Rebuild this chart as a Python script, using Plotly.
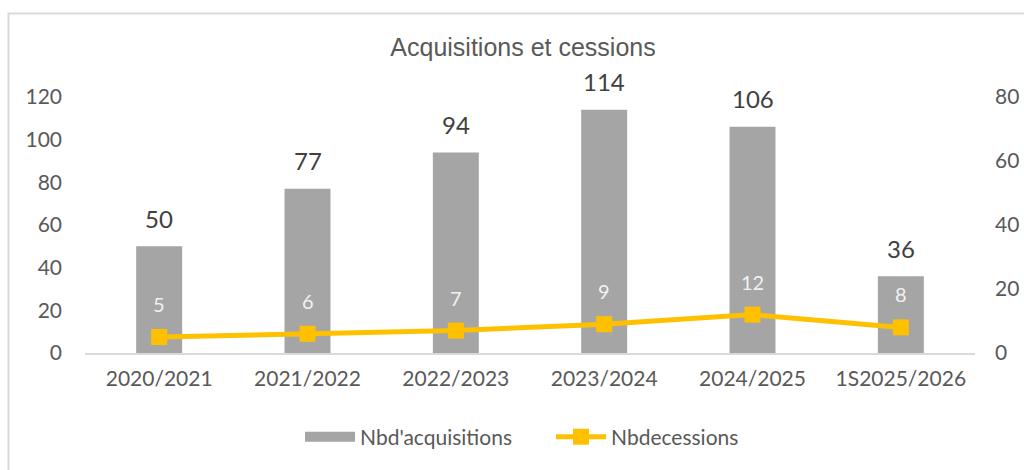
import plotly.graph_objects as go

categories = ["2020/2021", "2021/2022", "2022/2023", "2023/2024", "2024/2025", "1S2025/2026"]
acquisitions = [50, 77, 94, 114, 106, 36]
cessions = [5, 6, 7, 9, 12, 8]
left_ticks = [0, 20, 40, 60, 80, 100, 120]
right_ticks = [0, 20, 40, 60, 80]

FONT = "Lato, 'Open Sans', sans-serif"
W, H = 1024, 470
L, R, T, B = 85, 49, 97, 117
pw, ph = W - L - R, H - T - B
GRAY = "#A5A5A5"
GOLD = "#FFC000"
TXT = "#595959"

fig = go.Figure()
fig.add_trace(go.Bar(
    x=categories, y=acquisitions, name="Nbd'acquisitions",
    marker=dict(color=GRAY, line=dict(width=0)),
    width=0.31, showlegend=False,
))
# legend entry for the bars (wide rectangle swatch)
fig.add_trace(go.Scatter(
    x=[None], y=[None], name="Nbd'acquisitions", mode="lines",
    line=dict(color=GRAY, width=15), showlegend=True,
))
fig.add_trace(go.Scatter(
    x=categories, y=cessions, name="Nbdecessions", yaxis="y2",
    mode="lines+markers",
    line=dict(color=GOLD, width=5),
    marker=dict(symbol="square", size=16, color=GOLD),
    cliponaxis=False,
))
for c, v in zip(categories, acquisitions):
    fig.add_annotation(x=c, y=v, xref="x", yref="y", text=str(v),
                       showarrow=False, yshift=28,
                       font=dict(family=FONT, size=24, color="#404040"))
for c, v in zip(categories, cessions):
    fig.add_annotation(x=c, y=v, xref="x", yref="y2", text=str(v),
                       showarrow=False, yshift=33,
                       font=dict(family=FONT, size=20, color="#F2F2F2"))

# chart border
fig.add_shape(type="rect", xref="paper", yref="paper",
              x0=(8.5 - L) / pw, x1=(1040 - L) / pw,
              y0=(H - B - 490) / ph, y1=(H - B - 13.5) / ph,
              line=dict(color="#D9D9D9", width=2), fillcolor="rgba(0,0,0,0)", layer="below")

fig.update_layout(
    width=W, height=H,
    margin=dict(l=L, r=R, t=T, b=B),
    paper_bgcolor="white", plot_bgcolor="white",
    title=dict(text="Acquisitions et cessions", x=(523 - L) / pw, xref="paper", xanchor="center",
               y=1 - 47 / H, yanchor="middle",
               font=dict(family="Liberation Sans, Arial, sans-serif", size=25, color=TXT)),
    xaxis=dict(showgrid=False, showline=True, linecolor="#D9D9D9", linewidth=1.5,
               ticks="", automargin=False,
               tickfont=dict(family=FONT, size=21, color=TXT), ticklabelstandoff=6),
    yaxis=dict(range=[0, 120], tickvals=left_ticks, showgrid=False, zeroline=False,
               showline=False, automargin=False,
               tickfont=dict(family=FONT, size=21, color=TXT),
               ticklabelstandoff=22),
    yaxis2=dict(range=[0, 80], tickvals=right_ticks, overlaying="y", side="right",
                showgrid=False, zeroline=False, showline=False, automargin=False,
                tickfont=dict(family=FONT, size=21, color=TXT),
                ticklabelstandoff=19),
    legend=dict(orientation="h", x=(300 - L) / pw, xanchor="left", y=-(437 - (H - B)) / ph,
                yanchor="middle", font=dict(family=FONT, size=21, color=TXT),
                itemwidth=50, tracegroupgap=0, entrywidth=186, entrywidthmode="pixels"),
    showlegend=True,
    bargap=0.69,
)

fig.write_html("out.html", config={"displayModeBar": False},
               post_script="document.body.style.margin='0';document.body.style.overflow='hidden';")
